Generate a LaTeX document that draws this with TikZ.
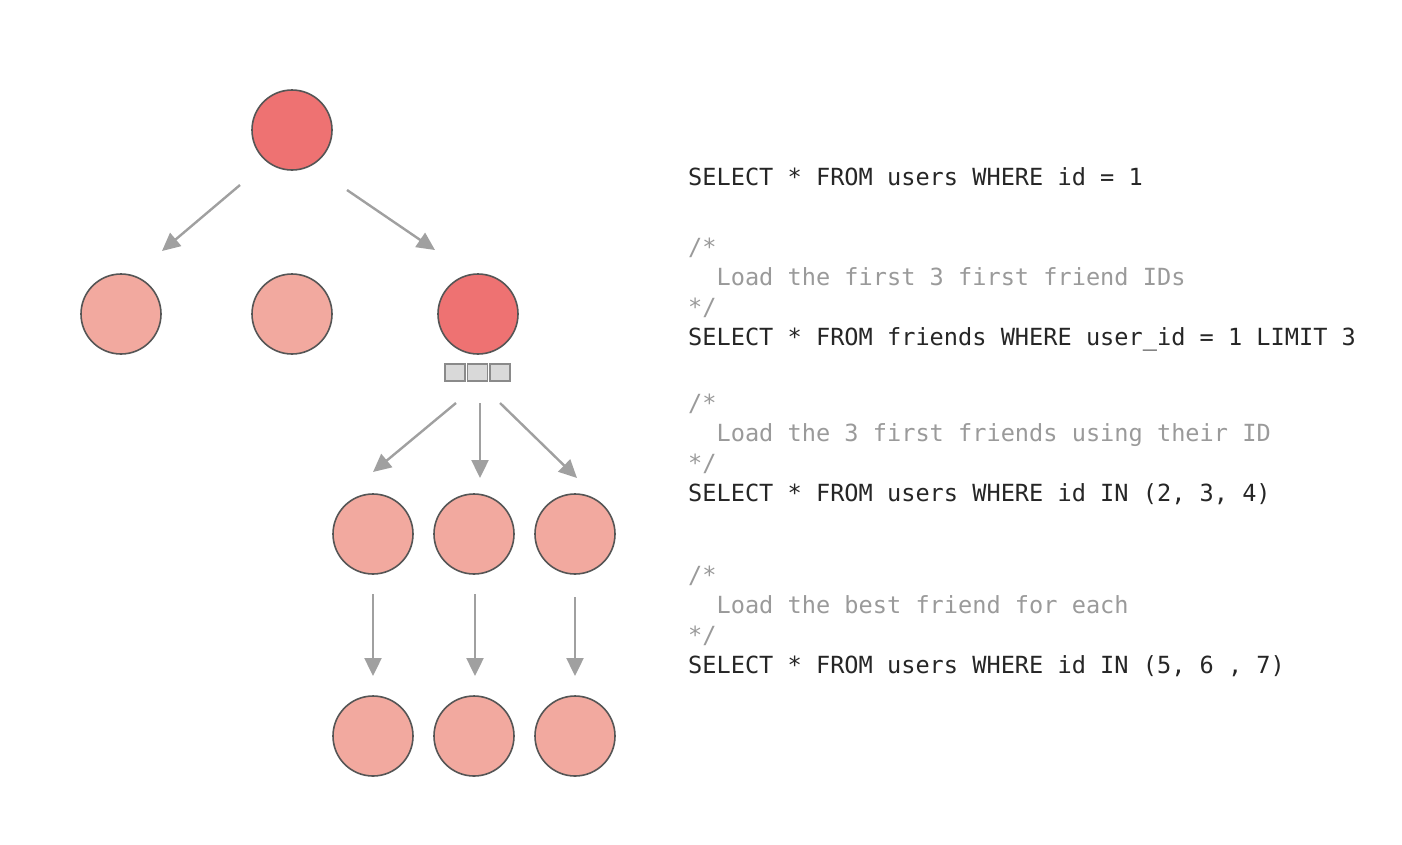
\documentclass[tikz,border=0pt]{standalone}
\usepackage{fontspec}
\setmonofont{DejaVu Sans Mono}
\usetikzlibrary{arrows.meta}
\definecolor{darkc}{HTML}{EE7272}
\definecolor{lightc}{HTML}{F2A99F}
\definecolor{edgec}{HTML}{555555}
\definecolor{arrc}{HTML}{A0A0A0}
\definecolor{cmtc}{HTML}{9A9A9A}
\definecolor{sqc}{HTML}{D9D9D9}
\definecolor{sqe}{HTML}{8A8A8A}
\tikzset{
  usr/.style={circle, draw=edgec, line width=1.6pt, minimum size=80pt, inner sep=0pt},
  hot/.style={usr, fill=darkc},
  cold/.style={usr, fill=lightc},
  sq/.style={draw=sqe, fill=sqc, line width=1.2pt, minimum width=20pt, minimum height=17pt, inner sep=0pt},
  arr/.style={draw=arrc, line width=2.4pt, -{Triangle[length=18pt,width=17pt]}},
  sql/.style={anchor=base west, inner sep=0pt, font=\ttfamily\fontsize{23.6}{28}\selectfont, text=black!85},
  cmt/.style={sql, text=cmtc}
}
\begin{document}
\begin{tikzpicture}[x=1pt,y=-1pt]
\useasboundingbox (0,0) rectangle (1402,844);
% tree
\node[hot]  (root) at (292,130) {};
\node[cold] (a1) at (121,314) {};
\node[cold] (a2) at (292,314) {};
\node[hot]  (a3) at (478,314) {};
\node[sq] (s1) at (455,372.5) {};
\node[sq] (s2) at (477.5,372.5) {};
\node[sq] (s3) at (500,372.5) {};
\node[cold] (b1) at (373,534) {};
\node[cold] (b2) at (474,534) {};
\node[cold] (b3) at (575,534) {};
\node[cold] (c1) at (373,736) {};
\node[cold] (c2) at (474,736) {};
\node[cold] (c3) at (575,736) {};
% arrow end points
\coordinate (r1s) at (240,185); \coordinate (r1e) at (162,251);
\coordinate (r2s) at (347,190); \coordinate (r2e) at (435,250);
\coordinate (q1s) at (456,403); \coordinate (q1e) at (373,472);
\coordinate (q2s) at (480,403); \coordinate (q2e) at (480,478);
\coordinate (q3s) at (500,403); \coordinate (q3e) at (577,478);
\coordinate (d1s) at (373,594); \coordinate (d1e) at (373,676);
\coordinate (d2s) at (475,594); \coordinate (d2e) at (475,676);
\coordinate (d3s) at (575,597); \coordinate (d3e) at (575,676);
\draw[arr] (r1s) -- (r1e);
\draw[arr] (r2s) -- (r2e);
\draw[arr] (q1s) -- (q1e);
\draw[arr] (q2s) -- (q2e);
\draw[arr] (q3s) -- (q3e);
\draw[arr] (d1s) -- (d1e);
\draw[arr] (d2s) -- (d2e);
\draw[arr] (d3s) -- (d3e);
% code
\node[sql] (l1) at (688,185) {SELECT * FROM users WHERE id = 1};
\node[cmt] (l2) at (688,255) {/*};
\node[cmt] (l3) at (688,285) {\ \ Load the first 3 first friend IDs};
\node[cmt] (l4) at (688,315) {*/};
\node[sql] (l5) at (688,345) {SELECT * FROM friends WHERE user\_id = 1 LIMIT 3};
\node[cmt] (l6) at (688,411) {/*};
\node[cmt] (l7) at (688,441) {\ \ Load the 3 first friends using their ID};
\node[cmt] (l8) at (688,471) {*/};
\node[sql] (l9) at (688,501) {SELECT * FROM users WHERE id IN (2, 3, 4)};
\node[cmt] (l10) at (688,583) {/*};
\node[cmt] (l11) at (688,613) {\ \ Load the best friend for each};
\node[cmt] (l12) at (688,643) {*/};
\node[sql] (l13) at (688,673) {SELECT * FROM users WHERE id IN (5, 6 , 7)};
\end{tikzpicture}
\end{document}
